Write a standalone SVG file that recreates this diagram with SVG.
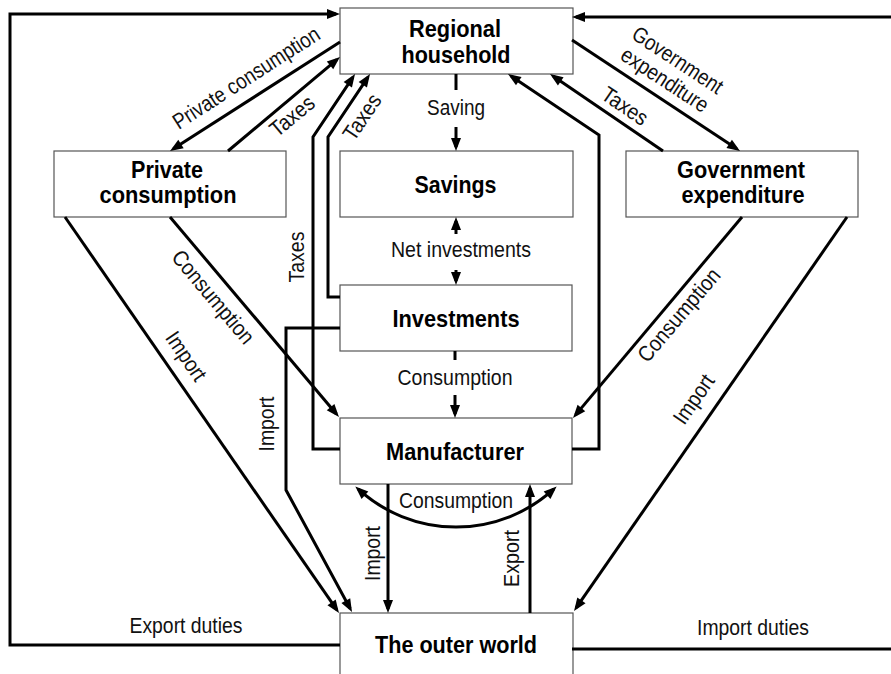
<svg xmlns="http://www.w3.org/2000/svg" width="891" height="674" viewBox="0 0 891 674">
  <defs>
    <marker id="ah" markerWidth="13" markerHeight="10" refX="9" refY="5" orient="auto-start-reverse" markerUnits="userSpaceOnUse" overflow="visible">
      <path d="M0,0 L13,5 L0,10 z" fill="#000"/>
    </marker>
    <style>
      .box { fill: #fff; stroke: #555; stroke-width: 1.2; }
      .title { font-family: "Liberation Sans", Arial, sans-serif; font-size: 24.5px; font-weight: bold; fill: #000; text-anchor: middle; }
      .lbl { font-family: "Liberation Sans", Arial, sans-serif; font-size: 22px; fill: #111; text-anchor: middle; }
      .flow { fill: none; stroke: #000; stroke-width: 3; stroke-linejoin: miter; }
      .arr { marker-end: url(#ah); }
    </style>
  </defs>

  <rect width="891" height="674" fill="#fff"/>

  <!-- nodes -->
  <g id="regional-household">
    <rect class="box" x="340" y="8" width="233" height="66"/>
    <text class="title" x="455" y="37" textLength="92" lengthAdjust="spacingAndGlyphs">Regional</text>
    <text class="title" x="456" y="63" textLength="109" lengthAdjust="spacingAndGlyphs">household</text>
  </g>
  <g id="private-consumption">
    <rect class="box" x="54" y="151" width="232" height="66"/>
    <text class="title" x="167" y="178" textLength="72" lengthAdjust="spacingAndGlyphs">Private</text>
    <text class="title" x="168" y="203" textLength="137" lengthAdjust="spacingAndGlyphs">consumption</text>
  </g>
  <g id="government-expenditure">
    <rect class="box" x="626" y="151" width="232" height="66"/>
    <text class="title" x="741" y="178" textLength="128" lengthAdjust="spacingAndGlyphs">Government</text>
    <text class="title" x="743" y="203" textLength="123" lengthAdjust="spacingAndGlyphs">expenditure</text>
  </g>
  <g id="savings">
    <rect class="box" x="340" y="151" width="233" height="66"/>
    <text class="title" x="455.5" y="193" textLength="82" lengthAdjust="spacingAndGlyphs">Savings</text>
  </g>
  <g id="investments">
    <rect class="box" x="340" y="285" width="232" height="66"/>
    <text class="title" x="456" y="327" textLength="127" lengthAdjust="spacingAndGlyphs">Investments</text>
  </g>
  <g id="manufacturer">
    <rect class="box" x="340" y="418" width="232" height="66"/>
    <text class="title" x="455" y="460" textLength="138" lengthAdjust="spacingAndGlyphs">Manufacturer</text>
  </g>
  <g id="outer-world">
    <rect class="box" x="340" y="613" width="233" height="70"/>
    <text class="title" x="456" y="653" textLength="162" lengthAdjust="spacingAndGlyphs">The outer world</text>
  </g>

  <!-- connectors -->
  <g id="connectors">
    <!-- household <-> private consumption -->
    <path class="flow arr" d="M340,42 L173.4,148.8"/>
    <path class="flow arr" d="M228,151 L336.9,59.6"/>
    <!-- taxes from manufacturer and investments (left side) -->
    <path class="flow arr" d="M340,449 L313,449 L313,137 L352.8,77.3"/>
    <path class="flow arr" d="M340,297 L328,297 L328,137 L367.8,77.3"/>
    <!-- taxes from manufacturer (right side) -->
    <path class="flow arr" d="M572,449 L599,449 L599,135 L511.3,76.2"/>
    <!-- household <-> government expenditure -->
    <path class="flow arr" d="M663,151 L553.3,76.3"/>
    <path class="flow arr" d="M572,40 L736.7,148.8"/>
    <!-- duties loops -->
    <path class="flow arr" d="M340,645 L10,645 L10,14 L336,14"/>
    <path class="flow arr" d="M572,649 L893,649 L893,17 L576,17"/>
    <!-- private consumption outflows -->
    <path class="flow arr" d="M170,217 L336.4,414"/>
    <path class="flow arr" d="M65,217 L336.7,609.7"/>
    <!-- investments import -->
    <path class="flow arr" d="M340,328 L286,328 L286,490 L350.1,608.5"/>
    <!-- manufacturer <-> outer world -->
    <path class="flow arr" d="M388,484 L388,609"/>
    <path class="flow arr" d="M530,613 L530,488"/>
    <path class="flow" d="M358.3,489.2 A145,145 0 0 0 553.7,489.2" marker-start="url(#ah)" marker-end="url(#ah)"/>
    <!-- government expenditure outflows -->
    <path class="flow arr" d="M742,217 L575.6,414.9"/>
    <path class="flow arr" d="M847,217 L576.3,607.7"/>
    <!-- central column -->
    <path class="flow" d="M456,74 L456,90"/>
    <path class="flow arr" d="M456,127 L456,147"/>
    <path class="flow arr" d="M456,234 L456,221"/>
    <path class="flow arr" d="M456,270 L456,281"/>
    <path class="flow" d="M455,351 L455,360"/>
    <path class="flow arr" d="M455,395 L455,414"/>

    <!-- labels -->
    <text class="lbl" x="456" y="115" textLength="58" lengthAdjust="spacingAndGlyphs">Saving</text>
    <text class="lbl" x="461" y="257" textLength="140" lengthAdjust="spacingAndGlyphs">Net investments</text>
    <text class="lbl" x="455" y="385" textLength="115" lengthAdjust="spacingAndGlyphs">Consumption</text>
    <text class="lbl" x="456" y="508" textLength="114" lengthAdjust="spacingAndGlyphs">Consumption</text>
    <text class="lbl" x="186" y="633" textLength="113" lengthAdjust="spacingAndGlyphs">Export duties</text>
    <text class="lbl" x="753" y="635" textLength="112" lengthAdjust="spacingAndGlyphs">Import duties</text>

    <text class="lbl" transform="translate(247,79) rotate(-32.7)" y="6" textLength="170" lengthAdjust="spacingAndGlyphs">Private consumption</text>
    <text class="lbl" transform="translate(292,116) rotate(-39.7)" y="7.5" textLength="51" lengthAdjust="spacingAndGlyphs">Taxes</text>
    <text class="lbl" transform="translate(362,117) rotate(-56)" y="7.5" textLength="51" lengthAdjust="spacingAndGlyphs">Taxes</text>
    <text class="lbl" transform="translate(296,257) rotate(-90)" y="7.5" textLength="51" lengthAdjust="spacingAndGlyphs">Taxes</text>
    <text class="lbl" transform="translate(625,106) rotate(34)" y="7.5" textLength="51" lengthAdjust="spacingAndGlyphs">Taxes</text>
    <g transform="translate(671,70.5) rotate(33.2)">
      <text class="lbl" y="-5" textLength="104" lengthAdjust="spacingAndGlyphs">Government</text>
      <text class="lbl" y="18.5" textLength="100" lengthAdjust="spacingAndGlyphs">expenditure</text>
    </g>
    <text class="lbl" transform="translate(212,298) rotate(50)" y="6" textLength="115" lengthAdjust="spacingAndGlyphs">Consumption</text>
    <text class="lbl" transform="translate(185,357) rotate(55.4)" y="6" textLength="55" lengthAdjust="spacingAndGlyphs">Import</text>
    <text class="lbl" transform="translate(268,424) rotate(-90)" y="6" textLength="55" lengthAdjust="spacingAndGlyphs">Import</text>
    <text class="lbl" transform="translate(373.5,553.5) rotate(-90)" y="6" textLength="55" lengthAdjust="spacingAndGlyphs">Import</text>
    <text class="lbl" transform="translate(512.5,558.5) rotate(-90)" y="6" textLength="57" lengthAdjust="spacingAndGlyphs">Export</text>
    <text class="lbl" transform="translate(680,316) rotate(-49.8)" y="6" textLength="115" lengthAdjust="spacingAndGlyphs">Consumption</text>
    <text class="lbl" transform="translate(695,400) rotate(-55.3)" y="6" textLength="55" lengthAdjust="spacingAndGlyphs">Import</text>
  </g>
</svg>
